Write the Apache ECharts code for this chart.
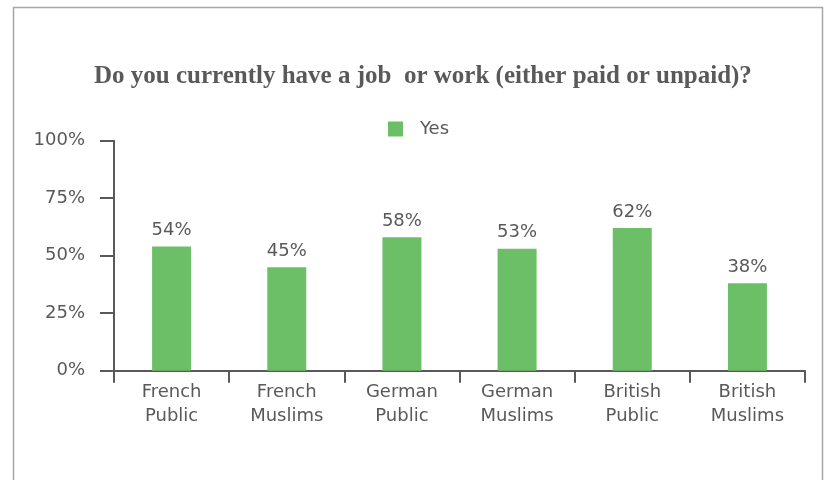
<!DOCTYPE html>
<html><head><meta charset="utf-8">
<script src="https://cdn.jsdelivr.net/npm/echarts@6/dist/echarts.min.js"></script>
<style>html,body{margin:0;padding:0;background:#fff}#c{width:824px;height:480px}</style>
</head><body><div id="c"></div>
<script>
const categories = ["French\nPublic","French\nMuslims","German\nPublic","German\nMuslims","British\nPublic","British\nMuslims"];
const yesValues = [54,45,58,53,62,38];
const yTicks = [0,25,50,75,100];
const titleText = "Do you currently have a job  or work (either paid or unpaid)?";
const seriesName = "Yes";

const chart = echarts.init(document.getElementById('c'));
const grey = '#595959';
const font = 'DejaVu Sans';
chart.setOption({
  animation:false,
  backgroundColor:'#fff',
  graphic:[{type:'rect',shape:{x:13.5,y:7.5,width:809,height:480},style:{fill:'none',stroke:'#a6a6a6',lineWidth:1.5},silent:true}],
  title:{text:titleText,left:89,top:59,textStyle:{fontFamily:'Liberation Serif',fontWeight:'bold',fontSize:25,color:grey}},
  legend:{data:[{name:seriesName,icon:'rect'}],top:115,left:383,itemWidth:15,itemHeight:15,itemGap:8,textStyle:{fontFamily:font,fontSize:18,color:grey,padding:[0,0,0,12]}},
  grid:{left:114,right:19,top:140.7,bottom:109.3,containLabel:false},
  xAxis:{type:'category',data:categories,
    axisLine:{lineStyle:{color:grey,width:2}},
    axisTick:{show:true,length:12,alignWithLabel:false,lineStyle:{color:grey,width:2}},
    axisLabel:{fontFamily:font,fontSize:18,color:grey,lineHeight:24,margin:10}},
  yAxis:{type:'value',min:0,max:100,interval:25,
    axisLine:{show:true,lineStyle:{color:grey,width:2}},
    axisTick:{show:true,length:14,lineStyle:{color:grey,width:2}},
    splitLine:{show:false},
    axisLabel:{fontFamily:font,fontSize:18,color:grey,margin:29,formatter:v=>yTicks.includes(v)?v+'%':''}},
  series:[{name:seriesName,type:'bar',data:yesValues,barWidth:39,
    itemStyle:{color:'#6DBF67'},
    label:{show:true,position:'top',distance:7,fontFamily:font,fontSize:18,color:grey,formatter:p=>p.value+'%'}}]
});
</script></body></html>
